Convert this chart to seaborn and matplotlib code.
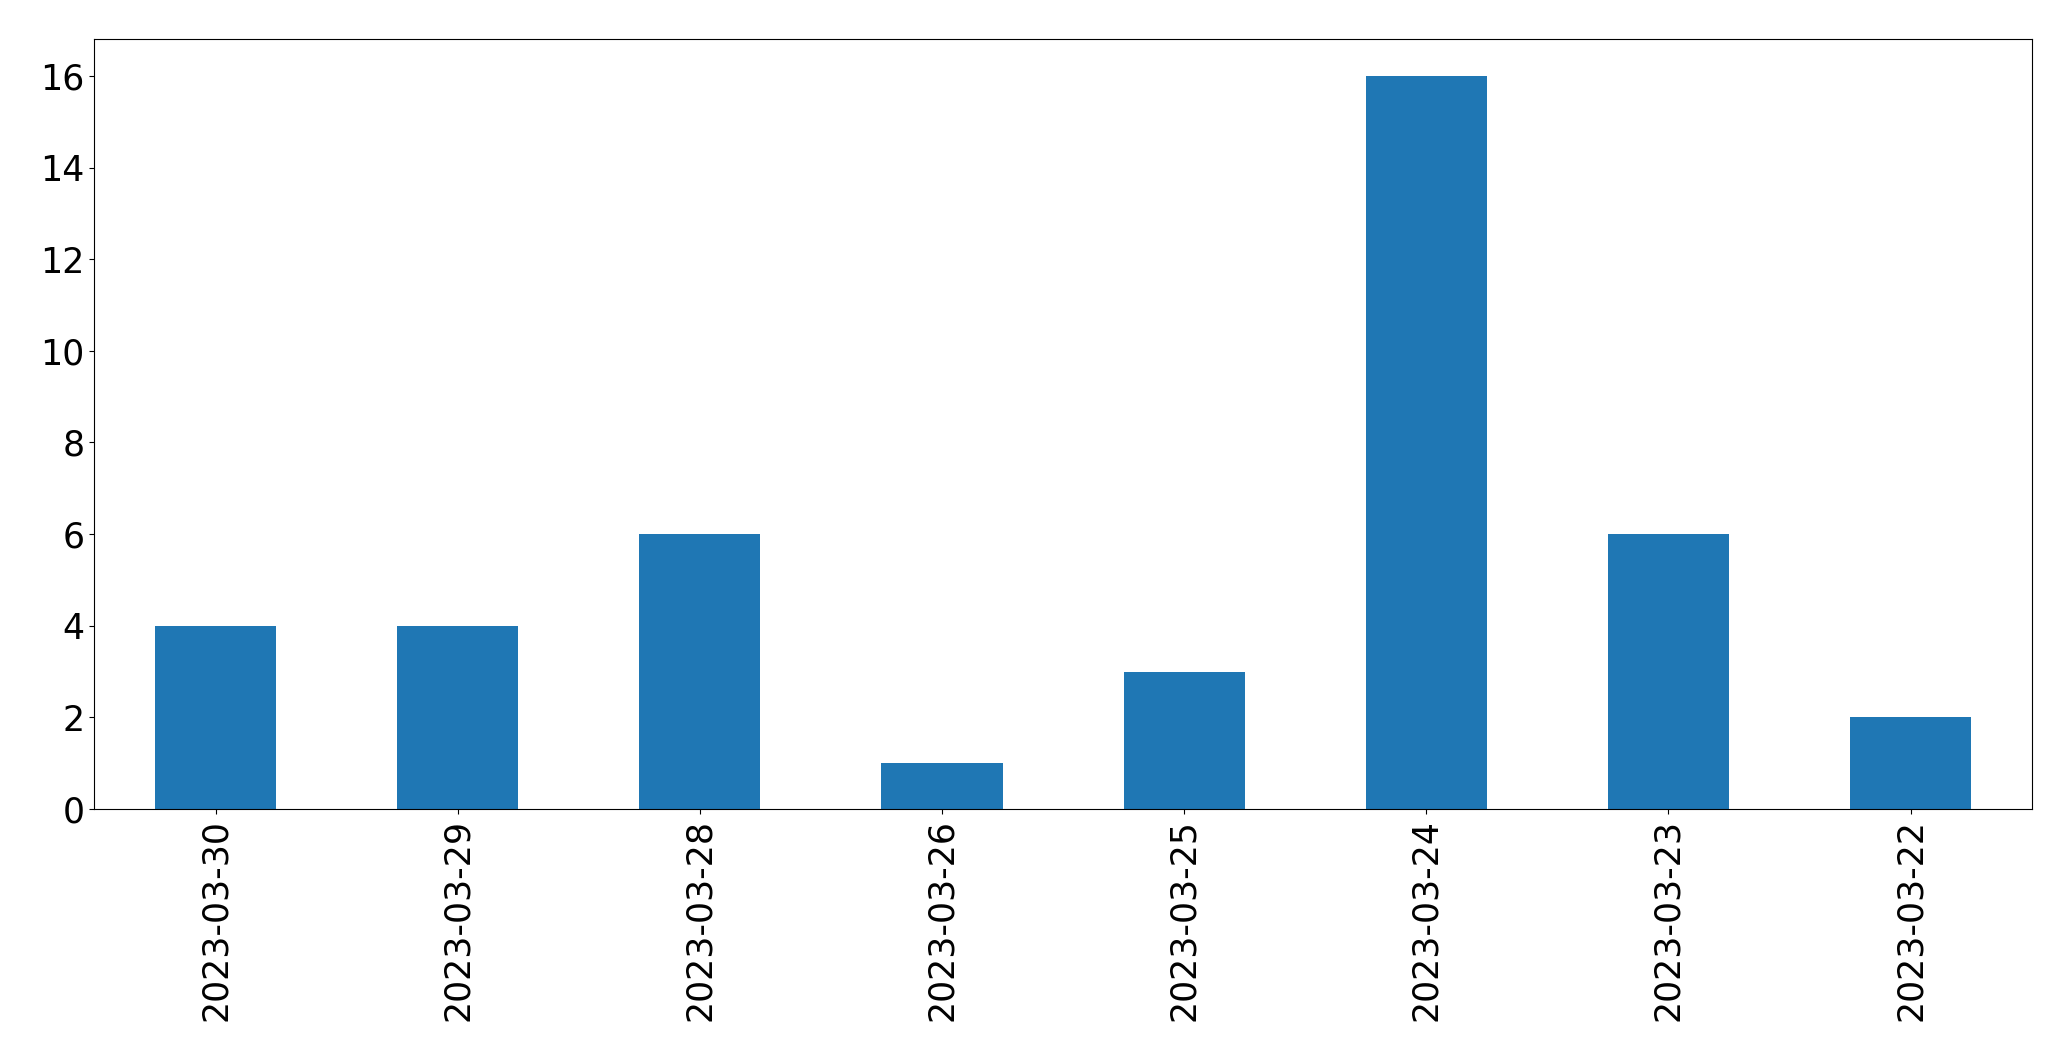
import pandas as pd
import matplotlib
matplotlib.use("Agg")
import matplotlib.pyplot as plt
import seaborn as sns

# Counts per date (order as shown in the chart)
dates = ["2023-03-30", "2023-03-29", "2023-03-28", "2023-03-26",
         "2023-03-25", "2023-03-24", "2023-03-23", "2023-03-22"]
counts = [4, 4, 6, 1, 3, 16, 6, 2]

df = pd.DataFrame({"date": dates, "count": counts})

plt.rcParams["font.family"] = ["DejaVu Sans"]

fig, ax = plt.subplots(figsize=(20.71, 10.61), dpi=100)
fig.subplots_adjust(left=0.0456, right=0.981, top=0.963, bottom=0.2375)

sns.barplot(data=df, x="date", y="count", order=dates, color="#1f77b4",
            saturation=1, width=0.5, ax=ax)

ax.set_xlim(-0.5, len(dates) - 0.5)
ax.set_ylim(0, max(counts) * 1.05)
ax.set_xlabel("")
ax.set_ylabel("")
ax.tick_params(axis="both", labelsize=25)
plt.xticks(rotation=90)

plt.savefig("out.png", dpi=100)
